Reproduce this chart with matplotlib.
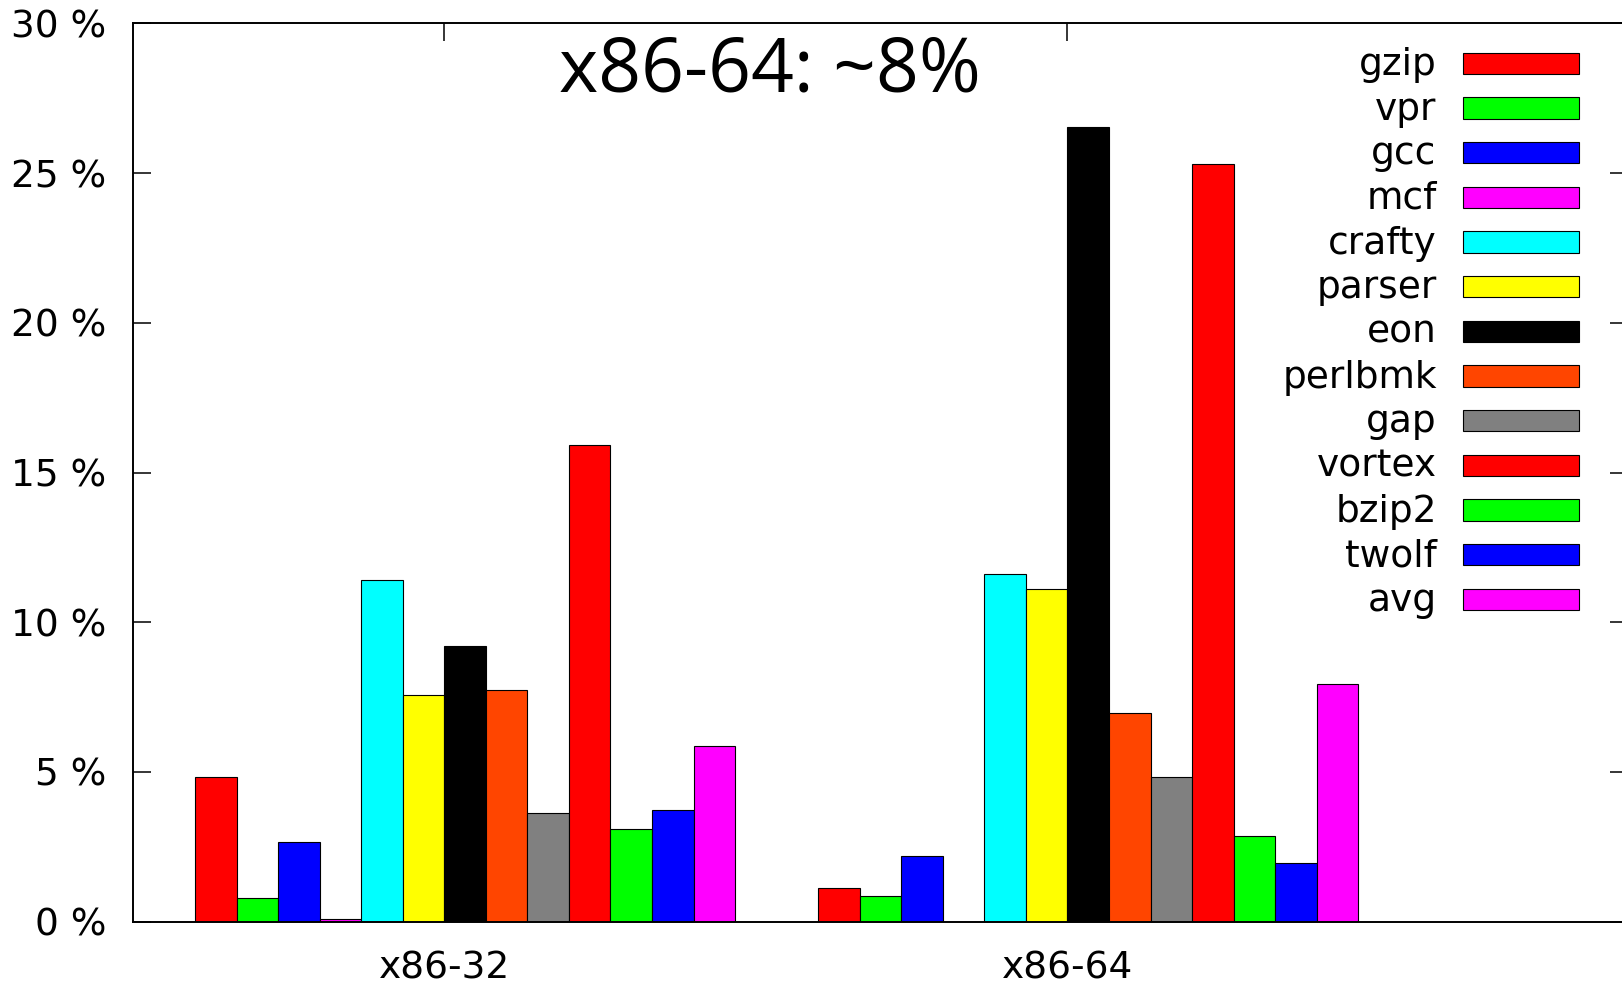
import numpy as np
import matplotlib
matplotlib.use('Agg')
import matplotlib.pyplot as plt
from matplotlib.patches import Rectangle
from matplotlib.ticker import FuncFormatter

# 数据
archs = ['x86-32', 'x86-64']
benchmarks = ['gzip', 'vpr', 'gcc', 'mcf', 'crafty', 'parser', 'eon',
              'perlbmk', 'gap', 'vortex', 'bzip2', 'twolf', 'avg']
x86_32 = [4.82, 0.78, 2.65, 0.09, 11.41, 7.57, 9.19, 7.74, 3.62, 15.93, 3.08, 3.72, 5.88]
x86_64 = [1.14, 0.86, 2.18, 0.0, 11.61, 11.10, 26.55, 6.98, 4.84, 25.30, 2.86, 1.95, 7.95]
colors = ['#ff0000', '#00ff00', '#0000ff', '#ff00ff', '#00ffff', '#ffff00', '#000000',
          '#ff4500', '#808080', '#ff0000', '#00ff00', '#0000ff', '#ff00ff']
title = 'x86-64: ~8%'

W, H = 1622, 983
fig = plt.figure(figsize=(W / 100, H / 100), dpi=100)

# 坐标轴位置（像素 -> 比例），右边框在画面之外
ax_l, ax_r, ax_t, ax_b = 132.7, 1628.3, 23.3, 921.7
ax = fig.add_axes([ax_l / W, 1 - ax_b / H, (ax_r - ax_l) / W, (ax_b - ax_t) / H])

# gnuplot 风格的簇状柱图: 13 根柱 + 2 个间隔
bar_w = 1 / 15
start = -0.4
pos = np.arange(len(archs))
for j, name in enumerate(benchmarks):
    ax.bar(pos + start + j * bar_w, [x86_32[j], x86_64[j]], width=bar_w, align='edge',
           color=colors[j], edgecolor='black', linewidth=0.8, zorder=2)

ax.set_xlim(-0.5, 1.9)
ax.set_ylim(0, 30)
ax.set_yticks(np.arange(0, 31, 5))
ax.yaxis.set_major_formatter(FuncFormatter(lambda v, _: f'{v:g} %'))
ax.set_xticks(pos)
ax.set_xticklabels(archs)

ax.tick_params(axis='both', which='major', direction='in', length=13, width=1.1,
               labelsize=27, top=True, right=True)
ax.tick_params(axis='y', pad=19)
ax.tick_params(axis='x', pad=20.7)
for lab in ax.get_yticklabels() + ax.get_xticklabels():
    lab.set_fontfamily('DejaVu Sans')

for s in ax.spines.values():
    s.set_linewidth(1.4)

# 标题
fig.text(770 / W, 1 - 91 / H, title, fontsize=54, family=['Open Sans', 'DejaVu Sans'],
         ha='center', va='baseline')

# 图例（手工绘制，文字右对齐，色块在右）
row0, row_step = 63.3, 44.66
text_r, box_l, box_w, box_h = 1436.7, 1463.3, 116.0, 21.3
for j, name in enumerate(benchmarks):
    yc = row0 + j * row_step
    fig.text(text_r / W, 1 - (yc + 11.7) / H, name, fontsize=27, family='DejaVu Sans',
             ha='right', va='baseline')
    fig.patches.append(Rectangle((box_l / W, 1 - (yc + box_h / 2) / H), box_w / W, box_h / H,
                                 transform=fig.transFigure, facecolor=colors[j],
                                 edgecolor='black', linewidth=0.8, figure=fig))

fig.savefig('out.png', dpi=100)
